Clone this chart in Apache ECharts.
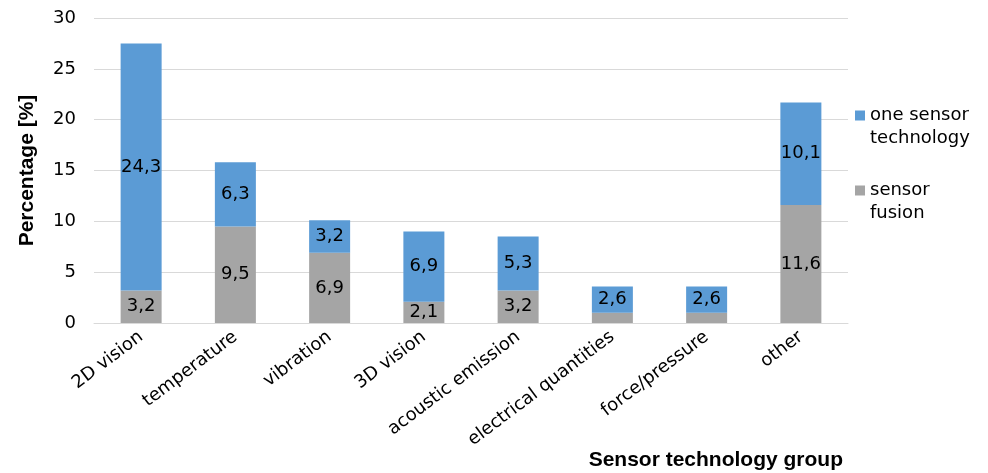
<!DOCTYPE html>
<html>
<head>
<meta charset="utf-8">
<title>Sensor technology groups</title>
<script src="https://cdn.jsdelivr.net/npm/echarts@6/dist/echarts.min.js"></script>
<style>
  html, body { margin: 0; padding: 0; background: #ffffff; }
  #chart { width: 988px; height: 473px; }
</style>
</head>
<body>
<div id="chart"></div>
<script>
// Share of sensor technology groups, split into fusion and single-sensor use
const categories = ['2D vision', 'temperature', 'vibration', '3D vision', 'acoustic emission', 'electrical quantities', 'force/pressure', 'other'];
const sensorFusion = [3.2, 9.5, 6.9, 2.1, 3.2, 1.0, 1.0, 11.6];
const oneSensor = [24.3, 6.3, 3.2, 6.9, 5.3, 2.6, 2.6, 10.1];
// segments whose value is printed inside the bar
const fusionLabelled = [true, true, true, true, true, false, false, true];
const oneLabelled = [true, true, true, true, true, true, true, true];
const yTicks = { min: 0, max: 30, interval: 5 };
const seriesNames = ['sensor fusion', 'one sensor technology'];
// legend entries wrap onto two lines; a leading blank line keeps the
// square marker level with the first line of text
const legendText = { 'one sensor technology': ' \none sensor\ntechnology', 'sensor fusion': ' \nsensor\nfusion' };

const FONT = 'DejaVu Sans';
const TITLE_FONT = 'Liberation Sans';

function decimalComma(v) {
  return v.toFixed(1).replace('.', ',');
}

function withLabels(values, shown) {
  return values.map((v, i) => ({ value: v, label: { show: shown[i] } }));
}

const chart = echarts.init(document.getElementById('chart'), null, { renderer: 'canvas' });

chart.setOption({
  animation: false,
  backgroundColor: '#ffffff',
  grid: { left: 94, right: 140, top: 18, bottom: 150, containLabel: false },
  title: {
    text: 'Sensor technology group',
    right: 145,
    top: 450,
    padding: 0,
    textStyle: { fontFamily: TITLE_FONT, fontWeight: 'bold', fontSize: 21, color: '#000' }
  },
  legend: {
    orient: 'vertical',
    left: 855,
    top: 81,
    padding: 0,
    itemWidth: 10,
    itemHeight: 10,
    itemGap: 6,
    icon: 'rect',
    data: ['one sensor technology', 'sensor fusion'],
    formatter: name => legendText[name],
    textStyle: {
      fontFamily: FONT,
      fontSize: 18,
      color: '#000',
      lineHeight: 23
    }
  },
  xAxis: {
    type: 'category',
    data: categories,
    axisTick: { show: false },
    axisLine: { lineStyle: { color: '#d9d9d9', width: 1 } },
    axisLabel: {
      interval: 0,
      rotate: 37,
      margin: 12,
      fontFamily: FONT,
      fontSize: 18,
      color: '#000'
    }
  },
  yAxis: {
    type: 'value',
    min: yTicks.min,
    max: yTicks.max,
    interval: yTicks.interval,
    name: 'Percentage [%]',
    nameLocation: 'middle',
    nameRotate: 90,
    nameGap: 56,
    nameTextStyle: { fontFamily: TITLE_FONT, fontWeight: 'bold', fontSize: 21, color: '#000' },
    axisLine: { show: false },
    axisTick: { show: false },
    splitLine: { lineStyle: { color: '#d9d9d9', width: 1 } },
    axisLabel: { margin: 18, fontFamily: FONT, fontSize: 18, color: '#000' }
  },
  series: [
    {
      name: seriesNames[0],
      type: 'bar',
      stack: 'share',
      barWidth: 41,
      itemStyle: { color: '#a5a5a5' },
      label: {
        position: 'inside',
        fontFamily: FONT,
        fontSize: 18,
        color: '#000',
        formatter: p => decimalComma(p.value)
      },
      data: withLabels(sensorFusion, fusionLabelled)
    },
    {
      name: seriesNames[1],
      type: 'bar',
      stack: 'share',
      barWidth: 41,
      itemStyle: { color: '#5b9bd5' },
      label: {
        position: 'inside',
        fontFamily: FONT,
        fontSize: 18,
        color: '#000',
        formatter: p => decimalComma(p.value)
      },
      data: withLabels(oneSensor, oneLabelled)
    }
  ]
});
</script>
</body>
</html>
